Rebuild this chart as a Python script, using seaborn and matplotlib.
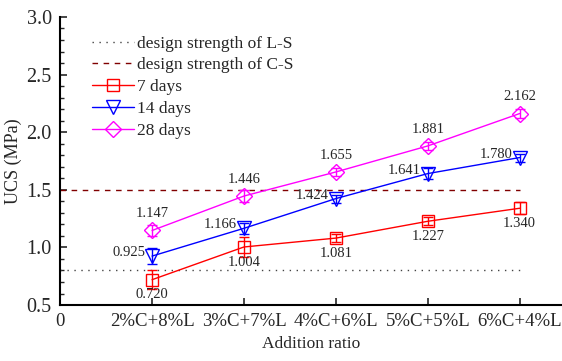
import numpy as np
import pandas as pd
import matplotlib
matplotlib.use('Agg')
import matplotlib.pyplot as plt
import seaborn as sns

# Data
ratios = ['2%C+8%L', '3%C+7%L', '4%C+6%L', '5%C+5%L', '6%C+4%L']
ucs_7d = [0.720, 1.004, 1.081, 1.227, 1.340]
ucs_14d = [0.925, 1.166, 1.424, 1.641, 1.780]
ucs_28d = [1.147, 1.446, 1.655, 1.881, 2.162]
err_7d = [0.08, 0.09, 0.035, 0.035, 0.05]
err_14d = [0.07, 0.05, 0.035, 0.05, 0.035]
err_28d = [0.05, 0.05, 0.035, 0.035, 0.04]
design_ls = 0.8
design_cs = 1.5

sns.set_style('ticks')
plt.rcParams['font.family'] = ['Liberation Serif', 'DejaVu Serif']

fig = plt.figure(figsize=(5.62, 3.61), dpi=100)
ax = fig.add_axes([0.107, 0.155, 0.893, 0.798])

xpos = np.arange(1, len(ratios) + 1)

# design strength lines
ax.plot([0, 5], [design_ls, design_ls], color='#444444', lw=1,
        linestyle=(0, (1, 4)), label='design strength of L-S')
ax.plot([0, 5], [design_cs, design_cs], color='#800000', lw=1,
        linestyle=(0, (4, 4)), label='design strength of C-S')

series = [
    ('7 days', ucs_7d, err_7d, 'red', 's', 8.5),
    ('14 days', ucs_14d, err_14d, 'blue', 'v', 9.5),
    ('28 days', ucs_28d, err_28d, 'magenta', 'D', 8),
]
for name, vals, errs, col, mk, ms in series:
    df = pd.DataFrame({'x': xpos, 'y': vals})
    sns.lineplot(data=df, x='x', y='y', ax=ax, color=col, lw=1,
                 marker=mk, markersize=ms, markerfacecolor='none',
                 markeredgecolor=col, markeredgewidth=1, label=name)
    ax.errorbar(xpos, vals, yerr=errs, fmt='none', ecolor=col,
                elinewidth=1, capsize=3.5, capthick=1)

# value labels
for x, v in zip(xpos, ucs_7d):
    ax.annotate(f'{v:.3f}', (x, v), xytext=(0, -11), textcoords='offset points',
                ha='center', va='center', fontsize=10.5)
for x, v in zip(xpos, ucs_14d):
    ax.annotate(f'{v:.3f}', (x, v), xytext=(-5, 2.5), textcoords='offset points',
                ha='right', va='center', fontsize=10.5)
for x, v in zip(xpos, ucs_28d):
    ax.annotate(f'{v:.3f}', (x, v), xytext=(0, 12), textcoords='offset points',
                ha='center', va='center', fontsize=10.5)

ax.set_xlim(0, 5.46)
ax.set_ylim(0.5, 3.0)
ax.set_xticks([0] + list(xpos))
ax.set_xticklabels(['0'] + ratios, fontsize=13.5)
ax.set_yticks([0.5, 1.0, 1.5, 2.0, 2.5, 3.0])
ax.set_yticklabels(['0.5', '1.0', '1.5', '2.0', '2.5', '3.0'], fontsize=14.5)
ax.set_yticks(np.arange(0.5, 3.0, 0.1), minor=True)
ax.tick_params(axis='both', direction='in', length=5, width=1.2, pad=6)
ax.tick_params(axis='y', which='minor', direction='in', length=3, width=1)
ax.set_xlabel('Addition ratio', fontsize=12.5, labelpad=4)
ax.set_ylabel('UCS (MPa)', fontsize=13, labelpad=3)
for s in ['top', 'right']:
    ax.spines[s].set_visible(False)
for s in ['left', 'bottom']:
    ax.spines[s].set_linewidth(1.5)
    ax.spines[s].set_color('black')

ax.legend(loc='upper left', bbox_to_anchor=(0.05, 0.96), frameon=False,
          fontsize=12.5, handlelength=2.4, handletextpad=0.2,
          labelspacing=0.33, borderaxespad=0)

fig.savefig('out.png', dpi=100)
